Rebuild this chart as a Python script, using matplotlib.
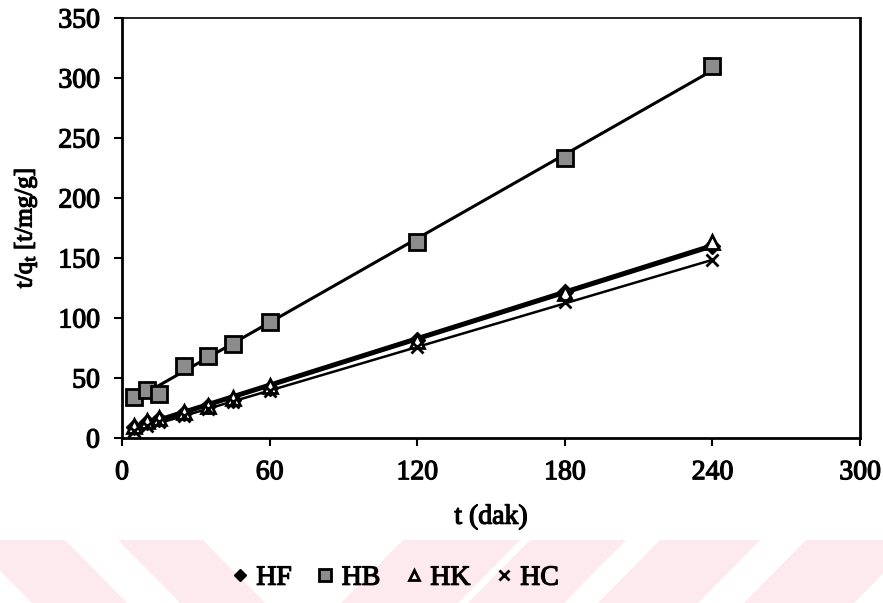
import matplotlib
matplotlib.use("Agg")
import matplotlib.pyplot as plt
import matplotlib.patheffects as pe
import numpy as np
from matplotlib.patches import Polygon

# data
t = [5, 10, 15, 25, 35, 45, 60, 120, 180, 240]
hf = [9, 13, 16, 21, 27, 32, 42, 82, 122, 160]
hb = [34, 40, 37, 60, 68, 78, 97, 163, 233, 310]
hk = [10, 14, 17, 22, 27, 33, 43, 81, 121, 163]
hc = [6, 10, 13, 18, 24, 30, 39, 76, 113, 148]
x_ticks = [0, 60, 120, 180, 240, 300]
y_ticks = [0, 50, 100, 150, 200, 250, 300, 350]

plt.rcParams['font.family'] = ['Liberation Serif', 'DejaVu Serif']
plt.rcParams['mathtext.default'] = 'regular'
# scanned text looks a little heavier than regular weight
ink = [pe.withStroke(linewidth=0.9, foreground='black')]

fig = plt.figure(figsize=(8.83, 6.03), dpi=100)

# pale pink watermark stripes at the bottom (pixel coords, y from top)
W, H = 883, 603
def band(x_top, width, shift):
    pts = [(x_top, 540), (x_top + width, 540), (x_top + width + shift, 603), (x_top + shift, 603)]
    return [(px / W, 1 - py / H) for px, py in pts]

for xt, wd, sh in [(-30, 95, 62), (118, 85, 62), (403, 117, -62), (530, 96, -62),
                   (660, 100, -62), (806, 110, -62)]:
    fig.patches.append(Polygon(band(xt, wd, sh), closed=True, transform=fig.transFigure,
                               facecolor='#fdeaee', edgecolor='none', zorder=0))

ax = fig.add_axes([122 / W, 1 - 438 / H, (860 - 122) / W, (438 - 18) / H])

tt = np.array(t, dtype=float)
series = [
    ('HF', hf, dict(marker='D', markersize=8, markerfacecolor='black', markeredgecolor='black'), 3.0),
    ('HB', hb, dict(marker='s', markersize=12, markerfacecolor='0.55', markeredgecolor='black',
                    markeredgewidth=2), 2.2),
    ('HK', hk, dict(marker='^', markersize=10, markerfacecolor='white', markeredgecolor='black',
                    markeredgewidth=2), 3.0),
    ('HC', hc, dict(marker='x', markersize=9, markeredgecolor='black', markeredgewidth=2), 1.8),
]

for name, vals, mk, lw in series:
    k, b = np.polyfit(tt, np.array(vals, dtype=float), 1)
    xs = np.array([tt.min(), tt.max()])
    ax.plot(xs, k * xs + b, color='black', linewidth=lw, zorder=2)
    ax.plot(t, vals, linestyle='none', label=name, zorder=3, **mk)

ax.set_xlim(0, 300)
ax.set_ylim(0, 350)
ax.set_xticks(x_ticks)
ax.set_yticks(y_ticks)
ax.tick_params(direction='out', length=6, width=1.5, labelsize=20, pad=10)
for side in ['left', 'bottom', 'right']:
    ax.spines[side].set_linewidth(2)
ax.spines['top'].set_linewidth(1.2)

ax.set_xlabel('t (dak)', fontsize=20, labelpad=14)
ax.set_ylabel(r't/q$_t$ [t/mg/g]', fontsize=18)
ax.yaxis.set_label_coords(-0.113, 0.5)

leg = fig.legend(loc='center', bbox_to_anchor=(395 / W, 1 - 578 / H), ncol=4, frameon=False,
                 fontsize=20, handlelength=0.6, handletextpad=0.3, columnspacing=0.9,
                 markerscale=0.75)

texts = ax.get_xticklabels() + ax.get_yticklabels() + [ax.xaxis.label, ax.yaxis.label] + leg.get_texts()
for txt in texts:
    txt.set_path_effects(ink)

fig.savefig('out.png', dpi=100)
